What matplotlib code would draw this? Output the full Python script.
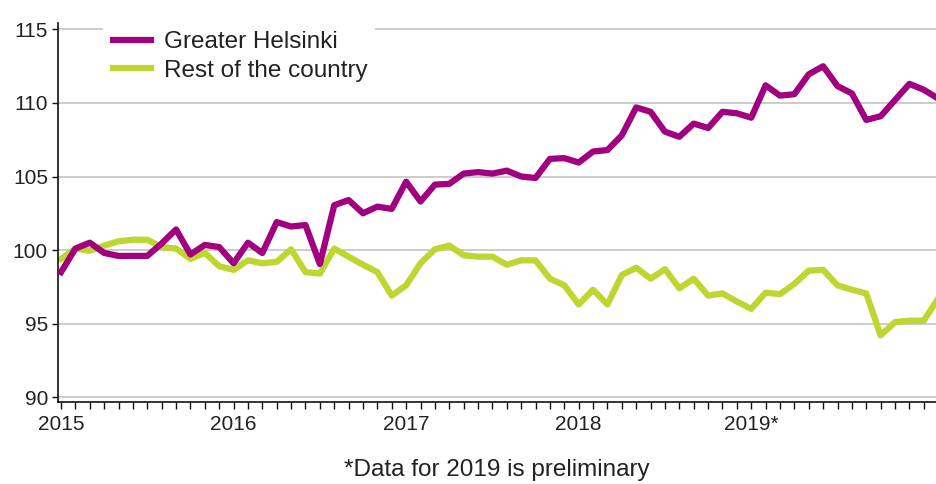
import matplotlib
matplotlib.use("Agg")
import matplotlib.pyplot as plt
import numpy as np

# monthly index values, 2015M01 onwards
helsinki = [98.5, 100.1, 100.5, 99.8, 99.6, 99.6, 99.6, 100.45, 101.4, 99.7, 100.35, 100.2,
            99.1, 100.5, 99.8, 101.9, 101.6, 101.7, 99.05, 103.05, 103.4, 102.5, 102.95, 102.8,
            104.65, 103.3, 104.45, 104.5, 105.2, 105.3, 105.2, 105.4, 105.0, 104.9, 106.2, 106.25,
            105.95, 106.7, 106.8, 107.8, 109.7, 109.4, 108.05, 107.7, 108.6, 108.3, 109.4, 109.3,
            109.0, 111.2, 110.5, 110.6, 111.95, 112.5, 111.15, 110.65, 108.85, 109.1, 110.2, 111.3,
            110.9, 110.3]
rest = [99.4, 100.1, 99.95, 100.3, 100.6, 100.7, 100.7, 100.2, 100.1, 99.4, 99.8, 98.9,
        98.65, 99.3, 99.1, 99.2, 100.05, 98.5, 98.4, 100.1, 99.55, 99.0, 98.5, 96.9,
        97.6, 99.1, 100.05, 100.3, 99.65, 99.55, 99.55, 99.0, 99.3, 99.3, 98.05, 97.6,
        96.3, 97.3, 96.3, 98.3, 98.8, 98.05, 98.7, 97.4, 98.05, 96.9, 97.05, 96.5,
        96.0, 97.1, 97.0, 97.7, 98.6, 98.65, 97.6, 97.3, 97.05, 94.2, 95.1, 95.2,
        95.2, 96.7]
year_labels = ['2015', '2016', '2017', '2018', '2019*']
series_names = ['Greater Helsinki', 'Rest of the country']
note = '*Data for 2019 is preliminary'

plt.rcParams['font.family'] = ['Liberation Sans', 'DejaVu Sans']
txt = '#222222'

x = np.arange(len(helsinki))

fig = plt.figure(figsize=(9.36, 4.84), dpi=100)
ax = fig.add_axes([58.3 / 936, 1 - 401.5 / 484, (936 - 58.3) / 936, (401.5 - 23) / 484])

ax.plot(x, rest, color='#bed62f', lw=4.5, label=series_names[1], zorder=2)
ax.plot(x, helsinki, color='#a1007f', lw=4.5, label=series_names[0], zorder=3)

ax.set_xlim(-0.19, 60.85)
ax.set_ylim(89.7, 115.44)
ax.set_yticks([90, 95, 100, 105, 110, 115])
ax.set_xticks(np.arange(0, 60, 12))
ax.set_xticklabels(year_labels)
ax.set_xticks(np.arange(0, 61), minor=True)
ax.grid(axis='y', color='#c8c8c8', lw=1.3, zorder=0)
ax.set_axisbelow(True)

for s in ['top', 'right']:
    ax.spines[s].set_visible(False)
for s in ['left', 'bottom']:
    ax.spines[s].set_linewidth(1.2)
    ax.spines[s].set_color('#111111')

ax.tick_params(axis='y', length=4, width=1, color='#111111', labelsize=15, labelcolor=txt, pad=3.5)
ax.tick_params(axis='x', which='both', length=5, width=1, color='#111111', labelsize=15,
               labelcolor=txt, pad=4.5)

# legend in the order of the reference
h, l = ax.get_legend_handles_labels()
leg = ax.legend(h[::-1], l[::-1], loc='upper left', bbox_to_anchor=(0.0507, 0.997),
                fontsize=17.5, frameon=True, framealpha=1, edgecolor='none',
                facecolor='white', handlelength=1.81, handletextpad=0.4,
                labelspacing=0.25, borderpad=0.3, borderaxespad=0, fancybox=False)
for t in leg.get_texts():
    t.set_color(txt)
for ln in leg.get_lines():
    ln.set_solid_capstyle('butt')
leg.set_zorder(5)

fig.text(58.3 / 936 + (936 - 58.3) / 936 / 2, 1 - 470 / 484, note, ha='center', va='center',
         fontsize=17.5, color=txt)

fig.savefig('out.png', dpi=100)
